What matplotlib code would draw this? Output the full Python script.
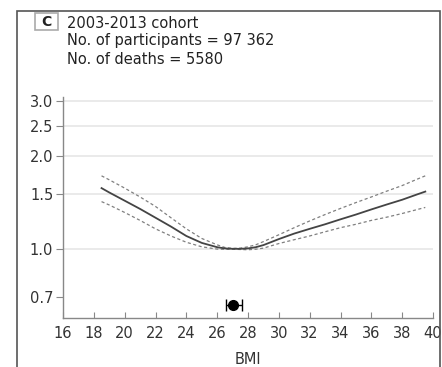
import matplotlib
matplotlib.use("Agg")
import matplotlib.pyplot as plt
from matplotlib.patches import Rectangle
import matplotlib.ticker as mticker

plt.rcParams['font.family'] = ['Liberation Sans Narrow', 'DejaVu Sans']

# Data
bmi =      [18.5, 19,   20,   21,   22,   23,   24,   25,    26,    26.5,  27,   27.5,  28,   28.5,  29,    30,   31,   32,   33,    34,    35,   36,   37,    38,   39,    39.5]
hr =       [1.57, 1.52, 1.43, 1.345,1.26, 1.18, 1.10, 1.045, 1.012, 1.003, 1.0,  1.0,   1.003,1.012, 1.028, 1.075,1.12, 1.16, 1.20,  1.245, 1.29, 1.34, 1.39,  1.44, 1.50,  1.53]
hr_upper = [1.72, 1.67, 1.57, 1.47, 1.37, 1.26, 1.16, 1.08,  1.03,  1.01,  1.003,1.005, 1.015,1.03,  1.055, 1.11, 1.17, 1.23, 1.29,  1.35,  1.41, 1.47, 1.535, 1.60, 1.68,  1.72]
hr_lower = [1.42, 1.385,1.31, 1.235,1.16, 1.10, 1.05, 1.015, 0.998, 0.996, 0.997,0.995, 0.993,0.997, 1.005, 1.04, 1.07, 1.10, 1.135, 1.17,  1.20, 1.235,1.265, 1.30, 1.34,  1.36]
nadir_bmi = 27.0
nadir_y = 0.66
nadir_lo, nadir_hi = 26.6, 27.6
yticks = [0.7, 1.0, 1.5, 2.0, 2.5, 3.0]
ytick_labels = ["0.7", "1.0", "1.5", "2.0", "2.5", "3.0"]
xticks = list(range(16, 41, 2))
title_lines = ["2003-2013 cohort", "No. of participants = 97 362", "No. of deaths = 5580"]
panel = "C"

W, H = 442, 367
fig = plt.figure(figsize=(W / 100, H / 100), dpi=100)

def fx(px):
    return px / W

def fy(py):
    return 1 - py / H

# Outer frame
fig.patches.append(Rectangle((fx(17), fy(380)), fx(440) - fx(17), fy(10.5) - fy(380),
                             transform=fig.transFigure, fill=False, edgecolor='#555555', lw=1.2))

# Panel label box
fig.patches.append(Rectangle((fx(35), fy(30)), fx(58) - fx(35), fy(12.5) - fy(30),
                             transform=fig.transFigure, fill=False, edgecolor='#aaaaaa', lw=1.2))
fig.text(fx(46.5), fy(21.5), panel, ha='center', va='center', fontsize=10, fontweight='bold', color='#222222')

for i, line in enumerate(title_lines):
    fig.text(fx(67), fy(23 + 18 * i), line, ha='left', va='center', fontsize=10.5, color='#222222')

ax = fig.add_axes([fx(63), fy(318), fx(433) - fx(63), fy(97) - fy(318)])
ax.set_yscale('log')
ax.set_xlim(16, 40)
ax.set_ylim(0.598, 3.09)

for y in yticks[1:]:
    ax.axhline(y, color='#e6e6e6', lw=1.2, zorder=0)

ax.plot(bmi, hr, color='#444444', lw=1.3, zorder=3)
ax.plot(bmi, hr_upper, color='#808080', lw=0.9, ls=(0, (2.5, 2)), zorder=2)
ax.plot(bmi, hr_lower, color='#808080', lw=0.9, ls=(0, (2.5, 2)), zorder=2)

ax.errorbar([nadir_bmi], [nadir_y], xerr=[[nadir_bmi - nadir_lo], [nadir_hi - nadir_bmi]],
            fmt='o', color='black', ms=7, elinewidth=1.0, capsize=4, capthick=1.0, zorder=4)

ax.set_yticks(yticks)
ax.set_yticklabels(ytick_labels)
ax.yaxis.set_minor_locator(mticker.NullLocator())
ax.set_xticks(xticks)
ax.set_xticklabels([str(t) for t in xticks])

for s in ['top', 'right']:
    ax.spines[s].set_visible(False)
for s in ['left', 'bottom']:
    ax.spines[s].set_color('#888888')
    ax.spines[s].set_linewidth(1.0)

ax.tick_params(axis='y', direction='out', length=5, color='#888888', labelsize=10.5, labelcolor='#333333', pad=2)
ax.tick_params(axis='x', direction='in', length=4, color='#888888', labelsize=10.5, labelcolor='#333333', pad=6)
ax.set_xlabel("BMI", fontsize=10.5, color='#333333', labelpad=8)

fig.savefig("out.png", dpi=100)
